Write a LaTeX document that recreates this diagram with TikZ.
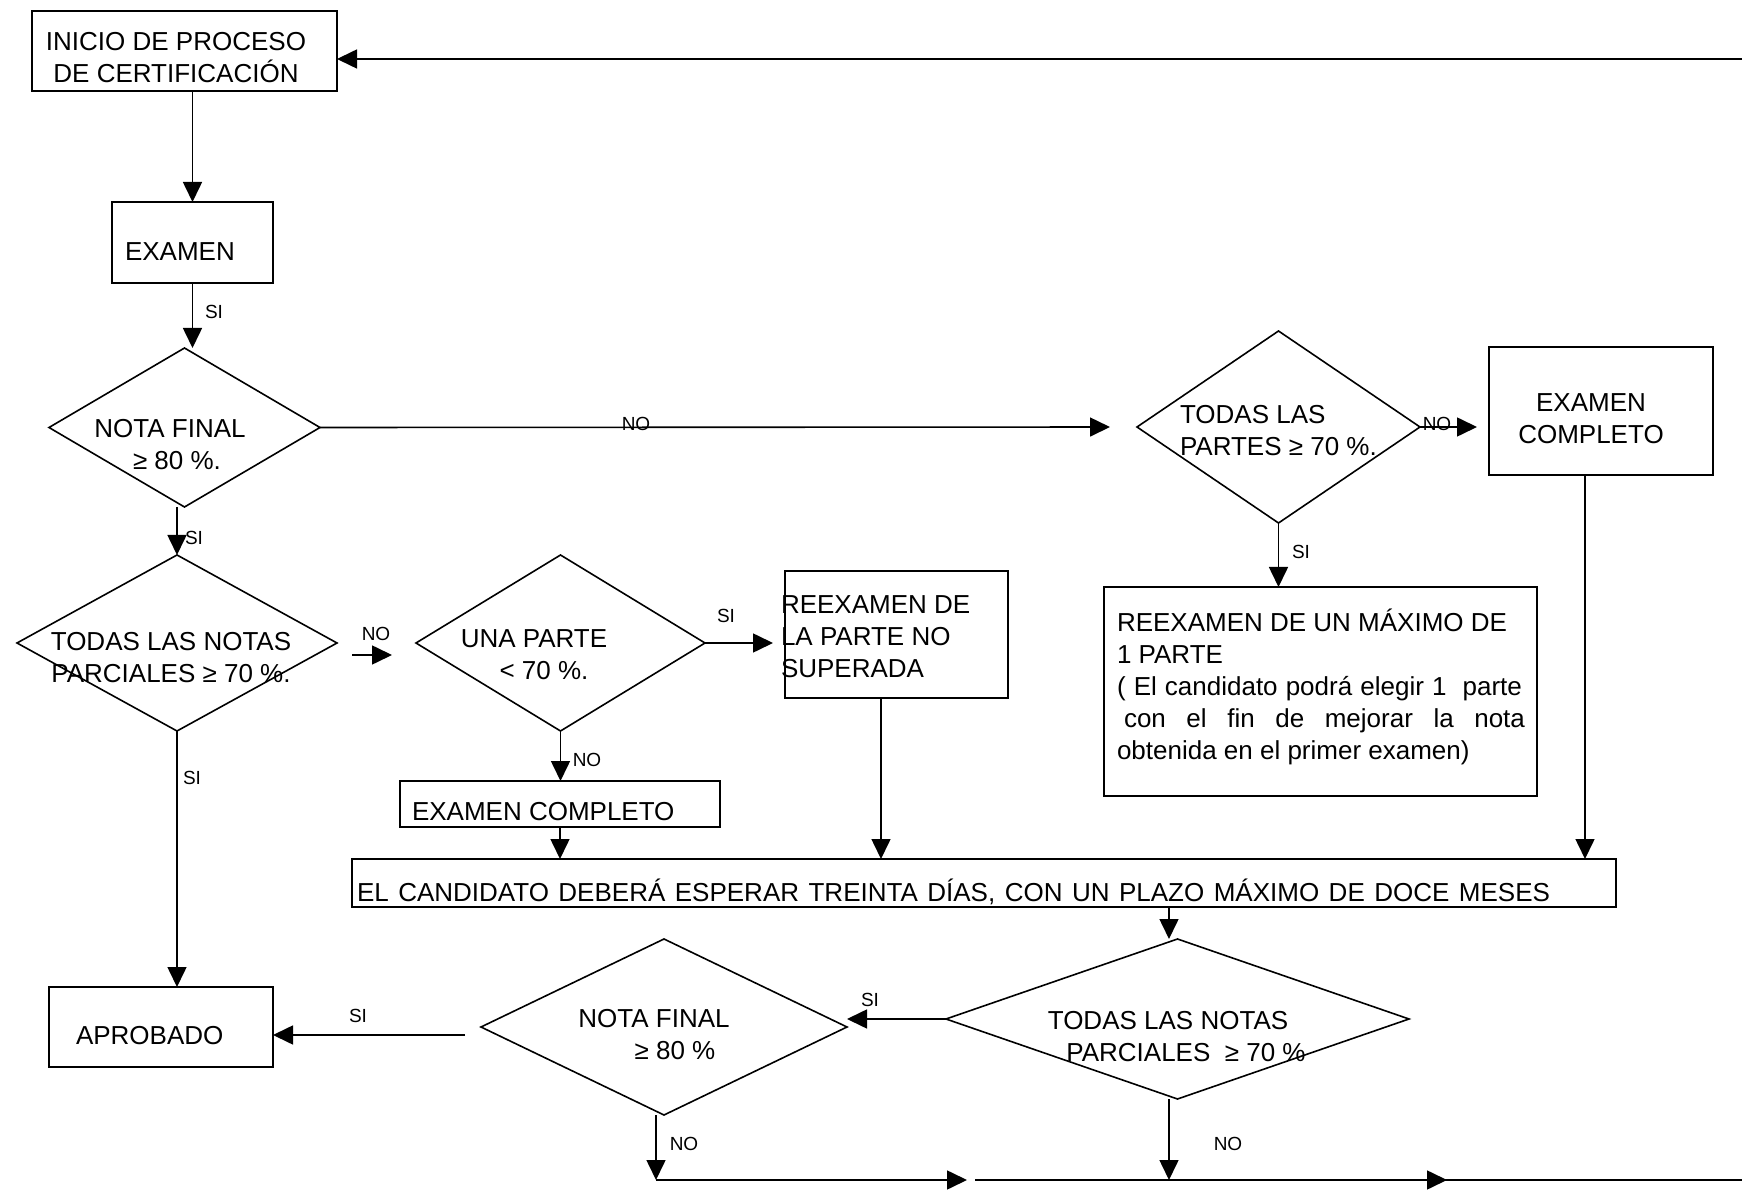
\documentclass[tikz,border=0pt]{standalone}
\usepackage{fontspec}
\setmainfont{Liberation Sans}
\usetikzlibrary{shapes.geometric,arrows.meta,calc}
\begin{document}
\begin{tikzpicture}[x=0.5pt,y=-0.5pt,
  every node/.style={inner sep=0pt, outer sep=0pt},
  box/.style={draw, line width=0.8pt, rectangle},
  dec/.style={draw, line width=0.8pt, diamond},
  txt/.style={font=\fontsize{13pt}{16pt}\selectfont},
  lbl/.style={font=\fontsize{9.5pt}{11pt}\selectfont},
  arr/.style={line width=0.8pt, -{Triangle[length=10pt,width=9.5pt]}}]
\useasboundingbox (0,0) rectangle (1742,1192);
\fill[white] (0,0) rectangle (1742,1192);

% process boxes
\node[box, minimum width=152.5pt, minimum height=40pt]   (inicio) at (184.5,51) {};
\node[box, minimum width=80.5pt,  minimum height=40.5pt] (examen) at (192.5,242.5) {};
\node[box, minimum width=111.5pt, minimum height=63.5pt] (reex1)  at (896.5,634.5) {};
\node[box, minimum width=112pt,   minimum height=64pt]   (ec2)    at (1601,411) {};
\node[box, minimum width=216.5pt, minimum height=104.5pt](reex2)  at (1320.5,691.5) {};
\node[box, minimum width=160pt,   minimum height=23pt]   (ec1)    at (560,804) {};
\node[box, minimum width=632pt,   minimum height=24pt]   (wait)   at (984,883) {};
\node[box, minimum width=112pt,   minimum height=40pt]   (aprob)  at (161,1027) {};

% decisions
\node[dec, minimum width=135.5pt, minimum height=79.5pt] (d1) at (184.5,427.5) {};
\node[dec, minimum width=160pt,   minimum height=88pt]   (d2) at (177,643) {};
\node[dec, minimum width=144.5pt, minimum height=88pt]   (d3) at (560.5,643) {};
\node[dec, minimum width=141.5pt, minimum height=96pt]   (d4) at (1278.5,427) {};
\node[dec, minimum width=183pt,   minimum height=88pt]   (d5) at (664,1027) {};
\node[dec, minimum width=231.5pt, minimum height=80pt]   (d6) at (1177.5,1019) {};

% texts
\node[txt, align=center] (t-inicio) at (176,58) {INICIO DE PROCESO\\DE CERTIFICACIÓN};
\node[txt, anchor=west] (t-examen) at (125,252) {EXAMEN};
\node[txt, align=center] (t-d1) at (170,445) {NOTA FINAL\\\hspace*{7pt}≥ 80 \%.};
\node[txt, align=center] (t-d2) at (171,658) {TODAS LAS NOTAS\\PARCIALES ≥ 70 \%.};
\node[txt, align=center] (t-d3) at (534,655) {UNA PARTE\\\hspace*{10pt}< 70 \%.};
\node[txt, align=left, anchor=west] (t-reex1) at (781,637) {REEXAMEN DE\\LA PARTE NO\\SUPERADA};
\node[txt, align=left, anchor=west] (t-d4) at (1180,431) {TODAS LAS\\PARTES ≥ 70 \%.};
\node[txt, align=center] (t-ec2) at (1591,419) {EXAMEN\\COMPLETO};
\node[txt, align=left, anchor=west] (t-reex2) at (1117,687) {REEXAMEN DE UN MÁXIMO DE\\1 PARTE\\\makebox[202.5pt][s]{( El candidato podrá elegir 1\ \ parte}\\\hspace*{3.5pt}\makebox[200.5pt][s]{con el fin de mejorar la nota}\\obtenida en el primer examen)};
\node[txt, anchor=west] (t-ec1) at (412,812) {EXAMEN COMPLETO};
\node[txt, anchor=west] (t-wait) at (357,892) {\makebox[596.5pt][s]{EL CANDIDATO DEBERÁ ESPERAR TREINTA DÍAS, CON UN PLAZO MÁXIMO DE DOCE MESES}};
\node[txt, anchor=west] (t-aprob) at (76,1036) {APROBADO};
\node[txt, align=center] (t-d5) at (654,1035) {NOTA FINAL\\\hspace*{21pt}≥ 80 \%};
\node[txt, align=center] (t-d6) at (1168,1036.5) {TODAS LAS NOTAS\\\hspace*{18pt}PARCIALES \ ≥ 70 \%};

% connectors
\draw[arr] (inicio.south -| examen.north) -- (examen.north);
\draw[arr] (examen.south) -- (examen.south |- d1.north);
\draw[arr, shorten >=13.5pt] (d1.east) -- (d4.west);
\draw[arr] (d2.north |- d1.south) -- (d2.north);
\draw[arr, shorten <=7.5pt, shorten >=12pt] ([yshift=-6pt]d2.east) -- ([yshift=-6pt]d3.west);
\draw[arr, shorten >=6pt] (d3.east) -- (d3.east -| reex1.west);
\draw[arr] (d3.south) -- (d3.south |- ec1.north);
\draw[arr] (d4.south) -- (d4.south |- reex2.north);
\draw[arr, shorten >=6pt] (d4.east) -- (d4.east -| ec2.west);
\coordinate (e2) at ([xshift=-8pt]ec2.south);
\coordinate (r1) at ([xshift=-7.75pt]reex1.south);
\draw[arr] (e2) -- (e2 |- wait.north);
\draw[arr] (r1) -- (r1 |- wait.north);
\draw[arr] (ec1.south) -- (ec1.south |- wait.north);
\draw[arr] (d2.south) -- (d2.south |- aprob.north);
\coordinate (w6) at ([xshift=-4.25pt]d6.north);
\draw[arr] (w6 |- wait.south) -- (w6);
\draw[arr] (d6.west) -- (d6.west -| d5.east);
\draw[arr, shorten <=8pt] ([yshift=-4pt]d5.west) -- ([yshift=-4pt]aprob.east);

% return path along the bottom and the right edge
\coordinate (s5) at ([xshift=-4pt]d5.south);
\coordinate (s6) at ([xshift=-4.25pt]d6.south);
\coordinate (bl0) at (656,1180);
\coordinate (bl6) at (1169,1180);
\coordinate (bl1) at (967,1180);
\coordinate (bl2) at (975,1180);
\coordinate (bl3) at (1447,1180);
\coordinate (bl4) at (1442,1180);
\coordinate (cr1) at (1752,1180);
\coordinate (cr2) at (1752,59);
\draw[arr] (s5) -- (bl0);
\draw[arr] (s6) -- (bl6);
\draw[arr] (bl0) -- (bl1);
\draw[arr] (bl2) -- (bl3);
\draw[arr] (bl4) -- (cr1) -- (cr2) -- (cr2 -| inicio.east);

% branch labels
\node[lbl] (l1) at (214,312) {SI};
\node[lbl] (l2) at (636,424) {NO};
\node[lbl] (l3) at (194,538) {SI};
\node[lbl] (l4) at (376,634) {NO};
\node[lbl] (l5) at (726,616) {SI};
\node[lbl] (l6) at (587,760) {NO};
\node[lbl] (l7) at (1301,552) {SI};
\node[lbl] (l8) at (1437,424) {NO};
\node[lbl] (l9) at (192,778) {SI};
\node[lbl] (l10) at (358,1016) {SI};
\node[lbl] (l11) at (870,1000) {SI};
\node[lbl] (l12) at (684,1144) {NO};
\node[lbl] (l13) at (1228,1144) {NO};
\end{tikzpicture}
\end{document}
